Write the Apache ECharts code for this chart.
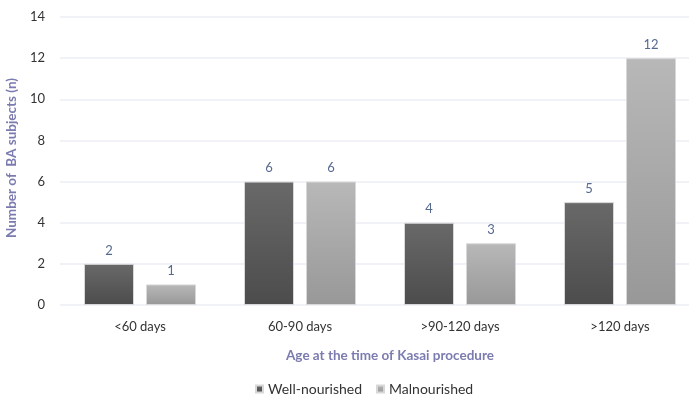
<!DOCTYPE html>
<html>
<head>
<meta charset="utf-8">
<script src="https://cdn.jsdelivr.net/npm/echarts@6/dist/echarts.min.js"></script>
<style>
  html, body { margin: 0; padding: 0; background: #ffffff; }
  #chart { width: 689px; height: 395px; }
</style>
</head>
<body>
<div id="chart"></div>
<script>
// Age groups at the time of the Kasai procedure
const categories = ['<60 days', '60-90 days', '>90-120 days', '>120 days'];
const wellNourished = [2, 6, 4, 5];
const malnourished = [1, 6, 3, 12];
const yTicks = [0, 2, 4, 6, 8, 10, 12, 14];

const FONT = 'Lato, "Open Sans", sans-serif';

function grad(top, bottom) {
  return new echarts.graphic.LinearGradient(0, 0, 0, 1, [
    { offset: 0, color: top },
    { offset: 1, color: bottom }
  ]);
}

const labelStyle = {
  show: true,
  position: 'top',
  distance: 7,
  color: '#56698f',
  fontFamily: FONT,
  fontSize: 13
};

const chart = echarts.init(document.getElementById('chart'), null, { renderer: 'canvas' });
chart.setOption({
  animation: false,
  textStyle: { fontFamily: FONT },
  grid: { left: 60, right: -11, top: 17, bottom: 90, containLabel: false, outerBoundsMode: 'none' },
  legend: {
    bottom: -6,
    left: 250,
    itemWidth: 7,
    itemHeight: 7,
    itemGap: 14,
    icon: 'rect',
    textStyle: { color: '#333', fontSize: 14, fontFamily: FONT },
    data: ['Well-nourished', 'Malnourished']
  },
  xAxis: {
    type: 'category',
    data: categories,
    axisLine: { show: false },
    axisTick: { show: false },
    axisLabel: { color: '#333', fontSize: 13, margin: 15, fontFamily: FONT },
    name: 'Age at the time of Kasai procedure',
    nameLocation: 'middle',
    nameGap: 44,
    nameTextStyle: {
      color: '#7b7bb0', fontSize: 13.5, fontWeight: 'bold', fontFamily: FONT,
      padding: [0, 0, 0, 20]
    }
  },
  yAxis: {
    type: 'value',
    min: yTicks[0],
    max: yTicks[yTicks.length - 1],
    interval: 2,
    axisLine: { show: false },
    axisTick: { show: false },
    splitLine: { lineStyle: { color: '#eceef4', width: 1.5 } },
    axisLabel: { color: '#333', fontSize: 13, margin: 15, fontFamily: FONT },
    name: 'Number of  BA subjects (n)',
    nameLocation: 'middle',
    nameRotate: 90,
    nameGap: 36,
    nameTextStyle: {
      color: '#7b7bb0', fontSize: 13.5, fontWeight: 'bold', fontFamily: FONT,
      padding: [0, 0, 0, 6]
    }
  },
  series: [
    {
      name: 'Well-nourished',
      type: 'bar',
      data: wellNourished,
      barWidth: 50,
      barGap: '24%',
      itemStyle: {
        color: grad('#696969', '#4c4c4c'),
        borderColor: '#d8d8d8',
        borderWidth: 1
      },
      label: labelStyle
    },
    {
      name: 'Malnourished',
      type: 'bar',
      data: malnourished,
      barWidth: 50,
      itemStyle: {
        color: grad('#b8b8b8', '#989898'),
        borderColor: '#d8d8d8',
        borderWidth: 1
      },
      label: labelStyle
    }
  ]
});
</script>
</body>
</html>
